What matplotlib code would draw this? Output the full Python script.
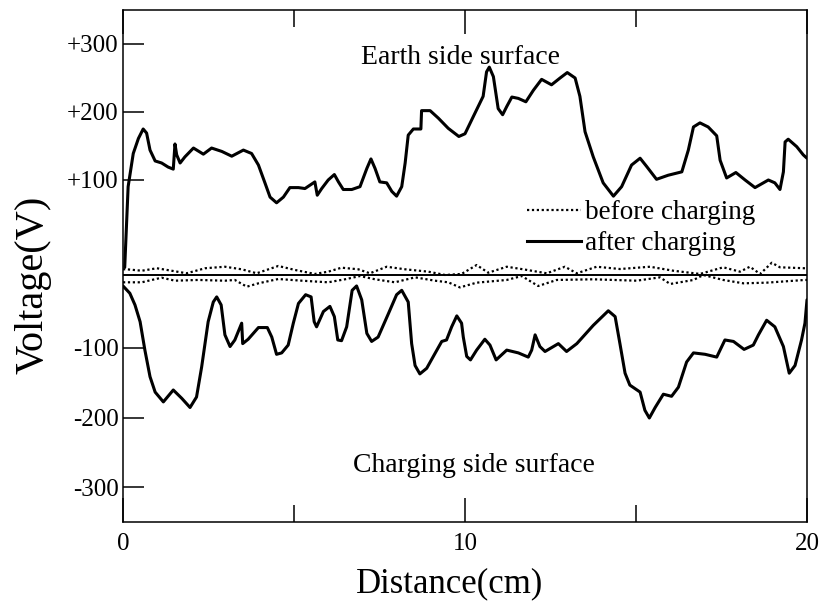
import numpy as np
import matplotlib
matplotlib.use("Agg")
import matplotlib.pyplot as plt
from matplotlib.lines import Line2D

plt.rcParams['font.family'] = ['Liberation Serif', 'DejaVu Serif']

# ---- measured surface potential profiles ----
# after charging, earth side surface (cm, V)
earth_x = [0.05, 0.15, 0.30, 0.45, 0.59, 0.69, 0.79, 0.94, 1.13, 1.32, 1.47, 1.52, 1.57,
           1.67, 1.81, 2.06, 2.35, 2.59, 2.89, 3.18, 3.52, 3.76, 3.96, 4.15, 4.30, 4.49,
           4.69, 4.88, 5.13, 5.32, 5.61, 5.68, 5.81, 6.00, 6.18, 6.30, 6.44, 6.69, 6.93,
           7.13, 7.25, 7.37, 7.51, 7.71, 7.86, 8.00, 8.15, 8.25, 8.34, 8.49, 8.71, 8.73,
           8.98, 9.22, 9.51, 9.82, 10.00, 10.24, 10.53, 10.63, 10.71, 10.83, 10.97, 11.10,
           11.22, 11.37, 11.56, 11.78, 12.00, 12.24, 12.53, 12.78, 12.99, 13.22, 13.36,
           13.51, 13.75, 14.04, 14.34, 14.58, 14.87, 15.12, 15.31, 15.60, 15.94, 16.34,
           16.53, 16.68, 16.87, 17.11, 17.36, 17.46, 17.65, 17.92, 18.19, 18.48, 18.87,
           19.06, 19.21, 19.31, 19.36, 19.45, 19.70, 19.89, 20.00]
earth_v = [8, 93, 139, 161, 175, 169, 144, 128, 125, 119, 116, 153, 137,
           125, 134, 147, 138, 147, 142, 135, 144, 139, 122, 97, 82, 76,
           82, 92, 92, 91, 98, 84, 91, 100, 108, 98, 90, 90, 93,
           117, 131, 117, 98, 97, 88, 83, 93, 125, 166, 175, 175, 202,
           202, 191, 176, 164, 168, 193, 223, 259, 266, 252, 205, 196,
           208, 222, 220, 215, 232, 248, 240, 250, 258, 250, 223,
           171, 134, 97, 83, 93, 122, 132, 120, 101, 107, 112,
           144, 178, 184, 178, 165, 129, 103, 111, 100, 92, 100,
           97, 90, 112, 156, 160, 149, 137, 132]

# after charging, charging side surface (cm, V)
charge_x = [0, 0.06, 0.20, 0.35, 0.50, 0.64, 0.79, 0.94, 1.18, 1.47, 1.72, 1.96, 2.15,
            2.30, 2.49, 2.64, 2.74, 2.87, 2.98, 3.13, 3.27, 3.47, 3.50, 3.66, 3.96, 4.22,
            4.35, 4.49, 4.64, 4.83, 4.98, 5.13, 5.34, 5.50, 5.59, 5.66, 5.86, 6.05, 6.18,
            6.28, 6.39, 6.54, 6.70, 6.83, 6.98, 7.13, 7.27, 7.46, 7.76, 8.00, 8.15, 8.34,
            8.44, 8.54, 8.68, 8.88, 9.12, 9.32, 9.46, 9.61, 9.76, 9.90, 9.95, 10.05, 10.16,
            10.34, 10.58, 10.73, 10.91, 11.22, 11.56, 11.85, 11.95, 12.05, 12.19, 12.34,
            12.73, 12.97, 13.27, 13.75, 14.19, 14.39, 14.53, 14.68, 14.82, 15.12, 15.26,
            15.39, 15.56, 15.80, 16.04, 16.24, 16.48, 16.68, 17.02, 17.36, 17.60, 17.85,
            18.16, 18.43, 18.58, 18.82, 19.06, 19.31, 19.48, 19.65, 19.84, 19.94, 20.00]
charge_v = [-15, -18, -25, -41, -64, -103, -141, -163, -177, -160, -172, -185, -170,
            -127, -64, -37, -30, -41, -82, -98, -89, -66, -94, -88, -72, -72,
            -85, -109, -107, -96, -66, -39, -27, -30, -64, -71, -50, -43, -57,
            -89, -90, -71, -21, -15, -34, -80, -91, -85, -53, -27, -21, -37,
            -94, -125, -137, -129, -108, -91, -89, -71, -56, -66, -85, -112, -117,
            -103, -88, -96, -117, -103, -107, -113, -103, -82, -98, -105,
            -94, -105, -94, -69, -49, -57, -94, -136, -153, -163, -189,
            -200, -185, -166, -169, -156, -120, -107, -109, -113, -89, -91,
            -102, -96, -82, -62, -71, -98, -136, -125, -89, -66, -34]

# before charging, both surfaces (cm, V)
before_top_x = [0, 0.11, 0.55, 0.99, 1.42, 1.86, 2.40, 2.98, 3.47, 3.91, 4.54, 5.03, 5.61,
                6.00, 6.39, 6.88, 7.22, 7.71, 8.25, 8.93, 9.42, 9.90, 10.34, 10.68, 11.22,
                11.70, 12.39, 12.92, 13.27, 13.85, 14.53, 15.41, 16.09, 16.87, 17.55,
                18.04, 18.33, 18.63, 18.97, 19.21, 19.94, 20.00]
before_top_v = [6, 6.0, 4.5, 7.1, 4.5, 1.8, 7.1, 8.7, 6.0, 1.8, 9.5, 5.3, 1.1,
                3.5, 7.7, 6.0, 1.8, 8.7, 6.0, 3.5, 0, 1.1, 10.5, 2.4, 8.7,
                6.0, 1.8, 8.7, 1.8, 8.7, 6.3, 8.7, 4.5, 1.1, 8.1,
                3.5, 8.7, 1.1, 12.9, 8.1, 7.1, 7.1]
before_bot_x = [0, 0.11, 0.55, 0.84, 1.13, 1.52, 2.20, 2.98, 3.27, 3.62, 3.96, 4.54, 5.23,
                6.00, 6.49, 6.93, 7.37, 7.95, 8.54, 9.12, 9.51, 9.85, 10.34, 11.22, 11.66,
                12.14, 12.68, 13.75, 15.02, 15.70, 16.00, 16.68, 16.97, 17.55, 18.14,
                18.82, 19.94, 20.00]
before_bot_v = [-10, -10, -10, -6.8, -3.7, -7.8, -6.8, -7.8, -6.8, -16, -11.4, -5.5, -7.8,
                -10, -5.9, -1.4, -5.9, -10, -3.2, -7.8, -10, -17, -10.5, -6.8, -1.4,
                -15.1, -6.8, -5.9, -7.8, -3.2, -12.3, -6.8, 0, -6.8, -11.4,
                -10.5, -6.8, -6.8]

x_ticks = [0, 10, 20]
x_minor_ticks = [5, 15]
y_ticks = [300, 200, 100, -100, -200, -300]
y_tick_labels = ['+300', '+200', '+100', '-100', '-200', '-300']

# ---- piecewise-linear voltage axis (the band around 0 V is widened) ----
_v_knots = np.array([-350, -300, -200, -100, 0, 100, 200, 300, 350], dtype=float)
_p_knots = np.array([-247, -212, -143, -73, 0, 95, 163, 231, 265], dtype=float)


def _fwd(v):
    return np.interp(v, _v_knots, _p_knots)


def _inv(p):
    return np.interp(p, _p_knots, _v_knots)


fig = plt.figure(figsize=(8.22, 6.06), dpi=100)
ax = fig.add_axes([123 / 822, 1 - 522 / 606, 684 / 822, 512 / 606])
ax.set_yscale('function', functions=(_fwd, _inv))
ax.set_xlim(0, 20)
ax.set_ylim(-350, 350)

solid_kw = dict(color='black', lw=2.2, solid_joinstyle='round', solid_capstyle='round')
dot_kw = dict(color='black', lw=1.6, linestyle=(0, (1, 1.2)))

ax.axhline(0, color='black', lw=1.4)
ax.plot(before_top_x, before_top_v, **dot_kw)
ax.plot(before_bot_x, before_bot_v, **dot_kw)
ax.plot(earth_x, earth_v, **solid_kw)
ax.plot(charge_x, charge_v, **solid_kw)

for s in ax.spines.values():
    s.set_linewidth(1.1)

ax.set_xticks(x_ticks)
ax.set_xticks(x_minor_ticks, minor=True)
ax.set_xticklabels([str(t) for t in x_ticks])
ax.set_yticks(y_ticks)
ax.set_yticklabels(y_tick_labels)
ax.yaxis.set_minor_locator(matplotlib.ticker.NullLocator())
ax.tick_params(axis='x', which='major', direction='in', top=True, bottom=True,
               length=17, width=1.1, labelsize=18, pad=8)
ax.tick_params(axis='x', which='minor', direction='in', top=True, bottom=True,
               length=12, width=1.1)
ax.tick_params(axis='y', which='major', direction='in', left=True, right=False,
               length=15, width=1.1, labelsize=18, pad=3)

ax.text((460 - 123) / 684, (522 - 64) / 512, 'Earth side surface', transform=ax.transAxes,
        ha='center', va='baseline', fontsize=20)
ax.text((474 - 123) / 684, (522 - 472) / 512, 'Charging side surface',
        transform=ax.transAxes, ha='center', va='baseline', fontsize=20)

handles = [Line2D([], [], **dot_kw), Line2D([], [], color='black', lw=2.2)]
ax.legend(handles, ['before charging', 'after charging'], loc='center left',
          bbox_to_anchor=((527 - 123) / 684, (522 - 228) / 512), frameon=False,
          borderpad=0, borderaxespad=0, handlelength=2.0, handletextpad=0.15,
          labelspacing=0.22, fontsize=19.5)

fig.text(450 / 822, 1 - 592 / 606, 'Distance(cm)', ha='center', va='baseline', fontsize=25)
fig.text(42 / 822, 1 - 285 / 606, 'Voltage(V)', rotation=90, rotation_mode='anchor',
         ha='center', va='baseline', fontsize=29)

fig.savefig('out.png', dpi=100)
